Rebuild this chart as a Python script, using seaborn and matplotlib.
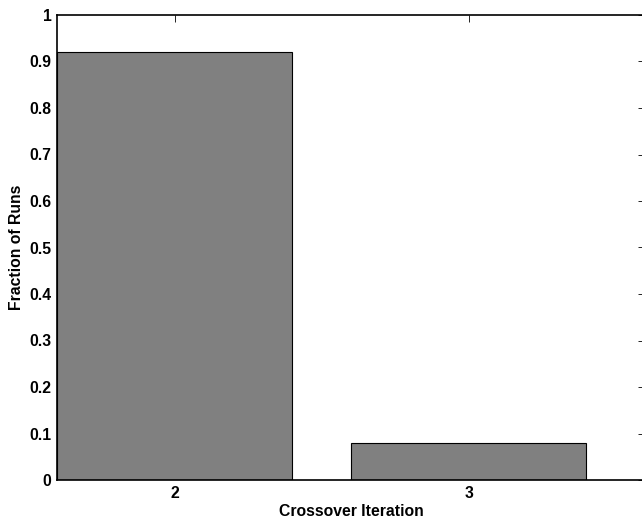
import seaborn as sns
import matplotlib.pyplot as plt
import pandas as pd

sns.set_style("white")
plt.rcParams['font.family'] = ['Liberation Sans', 'DejaVu Sans']
plt.rcParams['font.weight'] = 'bold'
plt.rcParams['text.color'] = 'black'
plt.rcParams['axes.labelcolor'] = 'black'
plt.rcParams['xtick.color'] = 'black'
plt.rcParams['ytick.color'] = 'black'

iterations = ["2", "3"]
fractions = [0.92, 0.08]
yticks = [0, 0.1, 0.2, 0.3, 0.4, 0.5, 0.6, 0.7, 0.8, 0.9, 1]
ytick_labels = ["0", "0.1", "0.2", "0.3", "0.4", "0.5", "0.6", "0.7", "0.8", "0.9", "1"]

df = pd.DataFrame({"iteration": iterations, "fraction": fractions})

fig = plt.figure(figsize=(6.42, 5.19), dpi=100)
ax = fig.add_axes([57 / 642, 39 / 519, 588 / 642, 465 / 519])

sns.barplot(data=df, x="iteration", y="fraction", color="#808080",
            saturation=1, width=0.8, edgecolor="black", linewidth=0.8, ax=ax)

ax.set_xlim(-0.4, 1.6)
ax.set_ylim(0, 1)
ax.set_yticks(yticks)
ax.set_yticklabels(ytick_labels)

for side in ["left", "right", "top", "bottom"]:
    ax.spines[side].set_visible(True)
    ax.spines[side].set_color("black")
    ax.spines[side].set_linewidth(1.2)

ax.tick_params(direction="in", length=5, width=0.6, colors="black",
               top=True, right=True, labelsize=11.3, pad=4)
for lbl in ax.get_xticklabels() + ax.get_yticklabels():
    lbl.set_fontweight("bold")

ax.set_xlabel("Crossover Iteration", fontsize=11.3, fontweight="bold", color="black")
ax.set_ylabel("Fraction of Runs", fontsize=11.3, fontweight="bold", color="black")
ax.xaxis.set_label_coords(0.5, -0.051)
ax.yaxis.set_label_coords(-0.056, 0.5)

fig.savefig("out.png", dpi=100)
